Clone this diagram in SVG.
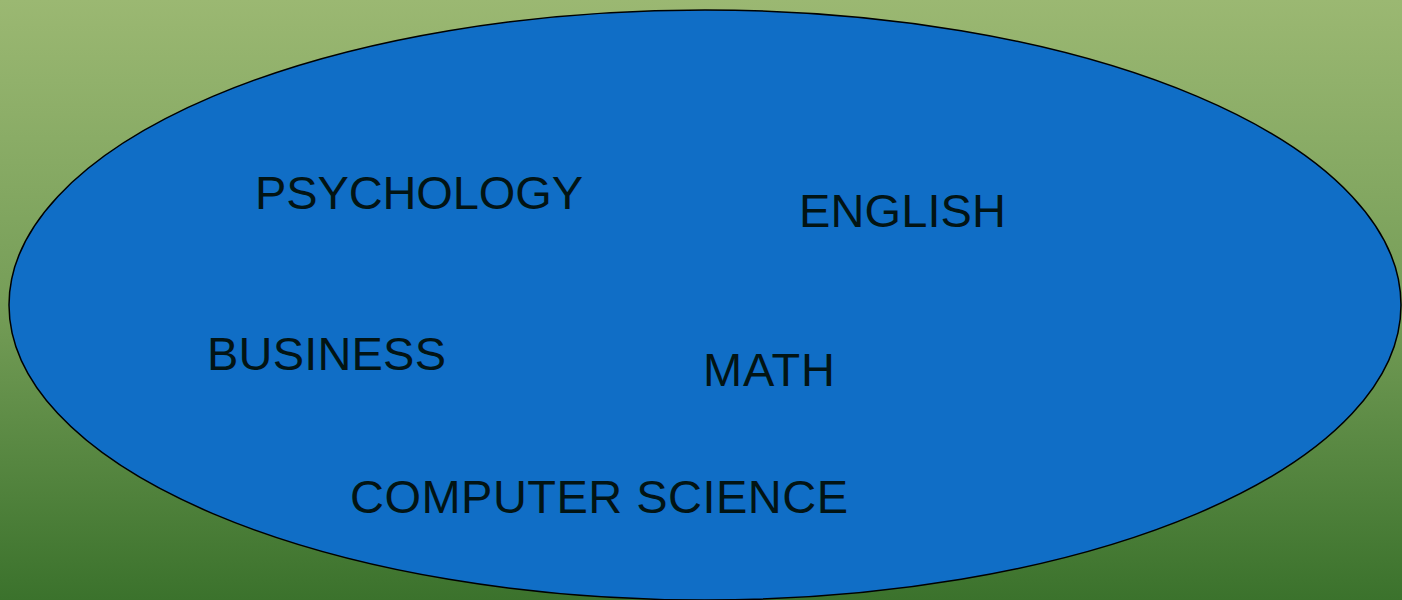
<svg xmlns="http://www.w3.org/2000/svg" width="1402" height="600" viewBox="0 0 1402 600">
<defs>
<linearGradient id="bg" x1="0" y1="0" x2="0" y2="1">
<stop offset="0" stop-color="#9bb872"/>
<stop offset="0.5" stop-color="#769e58"/>
<stop offset="1" stop-color="#3b722c"/>
</linearGradient>
</defs>
<style>
.lbl{font-family:"Liberation Sans",Arial,sans-serif;font-size:47px;fill:#021414}
</style>
<rect width="1402" height="600" fill="url(#bg)"/>
<g id="area">
<ellipse cx="705" cy="305" rx="696" ry="295" fill="#106ec6" stroke="#000" stroke-width="1.5"/>
</g>
<g id="psychology"><text class="lbl" x="255" y="209" textLength="328" lengthAdjust="spacing">PSYCHOLOGY</text></g>
<g id="english"><text class="lbl" x="799" y="227" textLength="207" lengthAdjust="spacing">ENGLISH</text></g>
<g id="business"><text class="lbl" x="207" y="370" textLength="239" lengthAdjust="spacing">BUSINESS</text></g>
<g id="math"><text class="lbl" x="703" y="386" textLength="132" lengthAdjust="spacing">MATH</text></g>
<g id="cs"><text class="lbl" x="350" y="513" textLength="498" lengthAdjust="spacing">COMPUTER SCIENCE</text></g>
<g id="connectors"/>
</svg>
